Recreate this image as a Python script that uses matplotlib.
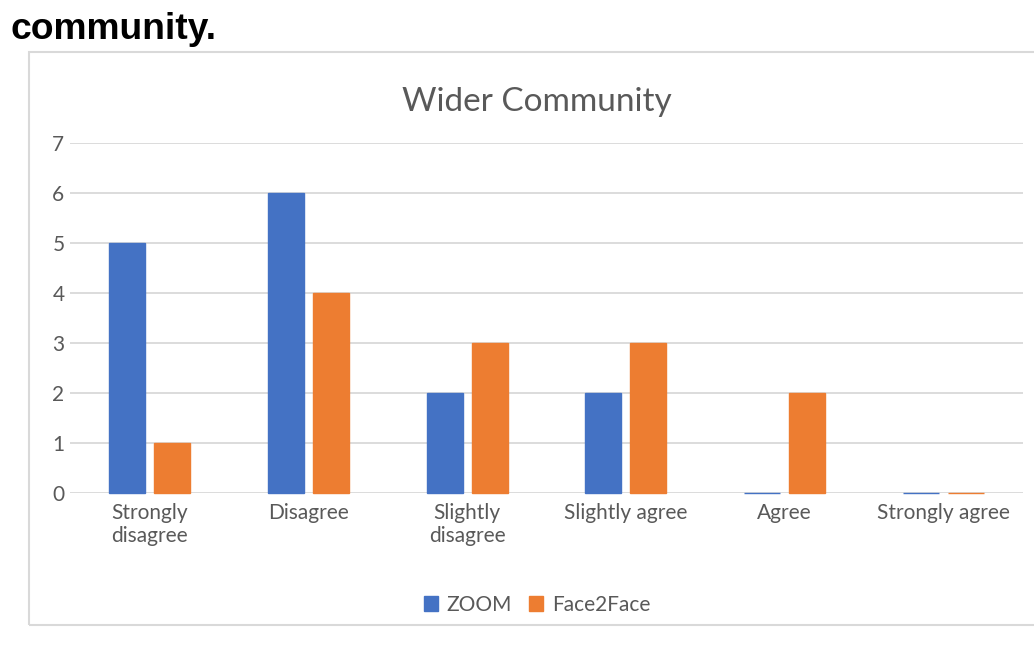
import numpy as np
import matplotlib.pyplot as plt
from matplotlib.patches import Rectangle

# data
categories = ['Strongly\ndisagree', 'Disagree', 'Slightly\ndisagree',
              'Slightly agree', 'Agree', 'Strongly agree']
zoom_vals = [5, 6, 2, 2, 0, 0]
f2f_vals = [1, 4, 3, 3, 2, 0]
series_names = ['ZOOM', 'Face2Face']
colors = ['#4472C4', '#ED7D31']
yticks = [0, 1, 2, 3, 4, 5, 6, 7]

plt.rcParams['font.family'] = ['Lato', 'DejaVu Sans']
grey = '#595959'

fig = plt.figure(figsize=(10.34, 6.45), dpi=100)

# heading text at the top of the screenshot
fig.text(10 / 1034, 0.94, 'community.', fontsize=26.8, fontweight='bold',
         family='Liberation Sans', color='black', ha='left', va='baseline')

# chart frame
fig.patches.append(Rectangle((29 / 1034, 1 - 625 / 645), 1.1, (625 - 52) / 645,
                             transform=fig.transFigure, fill=False,
                             edgecolor='#d9d9d9', linewidth=1.5))

ax = fig.add_axes([70 / 1034, 1 - 493 / 645, (1023 - 70) / 1034, (493 - 143) / 645])
x = np.arange(len(categories))
w = 0.226
off = 0.1415
b1 = ax.bar(x - off, zoom_vals, w, color=colors[0], edgecolor=colors[0], linewidth=1,
            label=series_names[0], zorder=3)
b2 = ax.bar(x + off, f2f_vals, w, color=colors[1], edgecolor=colors[1], linewidth=1,
            label=series_names[1], zorder=3)
for p in list(b1) + list(b2):
    p.set_clip_on(False)

ax.set_xlim(-0.5, len(categories) - 0.5)
ax.set_ylim(0, 7)
ax.set_yticks(yticks)
ax.set_xticks(x)
ax.set_xticklabels(categories, linespacing=1.2)
ax.tick_params(axis='both', length=0, labelsize=15, labelcolor=grey)
ax.tick_params(axis='y', pad=4)
ax.tick_params(axis='x', pad=7)
ax.grid(axis='y', color='#d9d9d9', linewidth=1.3, zorder=0)
for s in ax.spines.values():
    s.set_visible(False)

fig.text(537 / 1034, 1 - 102 / 645, 'Wider Community', fontsize=24, color=grey,
         ha='center', va='center')

fig.legend(loc='center', bbox_to_anchor=(537 / 1034, 1 - 605 / 645), ncol=2,
           frameon=False, fontsize=15, labelcolor=grey, handlelength=0.7,
           handleheight=0.7, handletextpad=0.4, columnspacing=0.8)

fig.savefig('out.png', dpi=100)
